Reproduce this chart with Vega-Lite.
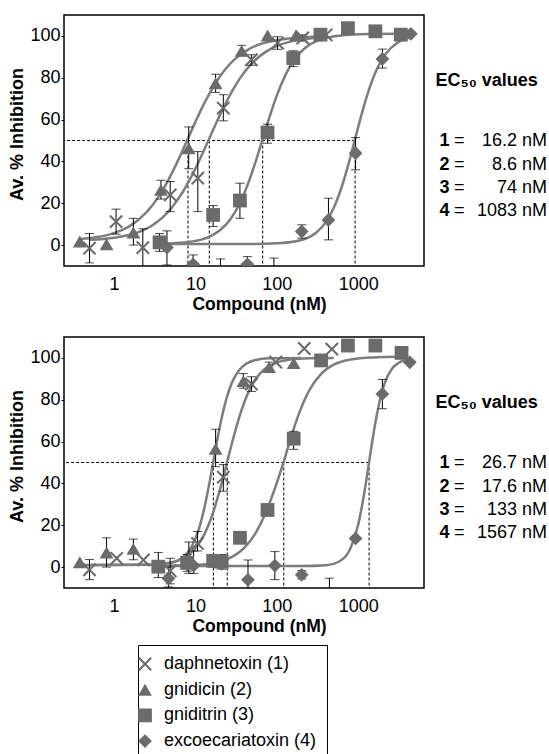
{
  "$schema": "https://vega.github.io/schema/vega-lite/v6.json",
  "padding": {"left": 8, "top": 14, "right": 0, "bottom": 0},
  "config": {
    "font": "Liberation Sans",
    "view": {"stroke": "black", "strokeWidth": 1.5},
    "axis": {"domain": false, "grid": false, "labelFontSize": 18, "labelColor": "black", "titleFontSize": 18, "titleFontWeight": "bold", "titleColor": "black", "tickColor": "black"}
  },
  "datasets": {
    "points": [
      {"panel":"A","compound":"daphnetoxin (1)","conc":0.5,"inhibition":-1.5,"lo":-8.5,"hi":5.5},
      {"panel":"A","compound":"daphnetoxin (1)","conc":1.06,"inhibition":11.2,"lo":5.2,"hi":17.2},
      {"panel":"A","compound":"daphnetoxin (1)","conc":2.26,"inhibition":-1.2,"lo":-10.2,"hi":7.8},
      {"panel":"A","compound":"daphnetoxin (1)","conc":4.9,"inhibition":24,"lo":16,"hi":30.4},
      {"panel":"A","compound":"daphnetoxin (1)","conc":10.7,"inhibition":32,"lo":16,"hi":44.7},
      {"panel":"A","compound":"daphnetoxin (1)","conc":22,"inhibition":65.5,"lo":59.4,"hi":71.9},
      {"panel":"A","compound":"daphnetoxin (1)","conc":48.7,"inhibition":88.6,"lo":86,"hi":91},
      {"panel":"A","compound":"daphnetoxin (1)","conc":102,"inhibition":96.6,"lo":93.6,"hi":99.6},
      {"panel":"A","compound":"daphnetoxin (1)","conc":208,"inhibition":99,"lo":97.5,"hi":100.5},
      {"panel":"A","compound":"daphnetoxin (1)","conc":403,"inhibition":100.5},
      {"panel":"A","compound":"gnidicin (2)","conc":0.38,"inhibition":1.7},
      {"panel":"A","compound":"gnidicin (2)","conc":0.81,"inhibition":0.4},
      {"panel":"A","compound":"gnidicin (2)","conc":1.73,"inhibition":6,"lo":0,"hi":12.8},
      {"panel":"A","compound":"gnidicin (2)","conc":3.77,"inhibition":26.4,"lo":22,"hi":31},
      {"panel":"A","compound":"gnidicin (2)","conc":8.27,"inhibition":46.3,"lo":36.5,"hi":56.5},
      {"panel":"A","compound":"gnidicin (2)","conc":17.7,"inhibition":77.4,"lo":73,"hi":81.7},
      {"panel":"A","compound":"gnidicin (2)","conc":37,"inhibition":92.9,"lo":90.5,"hi":95.5},
      {"panel":"A","compound":"gnidicin (2)","conc":77,"inhibition":100.2},
      {"panel":"A","compound":"gnidicin (2)","conc":172,"inhibition":100.3},
      {"panel":"A","compound":"gniditrin (3)","conc":3.63,"inhibition":1.3,"lo":-3,"hi":5.5},
      {"panel":"A","compound":"gniditrin (3)","conc":16.5,"inhibition":14.4,"lo":8.9,"hi":18.9},
      {"panel":"A","compound":"gniditrin (3)","conc":35.2,"inhibition":21.3,"lo":12.8,"hi":29.6},
      {"panel":"A","compound":"gniditrin (3)","conc":76.8,"inhibition":53.8,"lo":48.7,"hi":57.8},
      {"panel":"A","compound":"gniditrin (3)","conc":159,"inhibition":89.4,"lo":85.4,"hi":92.9},
      {"panel":"A","compound":"gniditrin (3)","conc":343,"inhibition":100.6},
      {"panel":"A","compound":"gniditrin (3)","conc":746,"inhibition":103.7},
      {"panel":"A","compound":"gniditrin (3)","conc":1622,"inhibition":102.2},
      {"panel":"A","compound":"gniditrin (3)","conc":3327,"inhibition":100.6},
      {"panel":"A","compound":"excoecariatoxin (4)","conc":4.47,"inhibition":-1.2,"lo":-9.5,"hi":6.8},
      {"panel":"A","compound":"excoecariatoxin (4)","conc":9.36,"inhibition":-9.2,"lo":-14,"hi":-4.7},
      {"panel":"A","compound":"excoecariatoxin (4)","conc":20.3,"inhibition":-13,"lo":-19,"hi":-6.6},
      {"panel":"A","compound":"excoecariatoxin (4)","conc":43.5,"inhibition":-9.2,"lo":-13,"hi":-5.5},
      {"panel":"A","compound":"excoecariatoxin (4)","conc":92,"inhibition":-14,"lo":-20,"hi":-6.2},
      {"panel":"A","compound":"excoecariatoxin (4)","conc":202,"inhibition":6.5,"lo":3.3,"hi":9.7},
      {"panel":"A","compound":"excoecariatoxin (4)","conc":430,"inhibition":12,"lo":2.5,"hi":22.4},
      {"panel":"A","compound":"excoecariatoxin (4)","conc":926,"inhibition":43.9,"lo":36,"hi":51.4},
      {"panel":"A","compound":"excoecariatoxin (4)","conc":1977,"inhibition":89,"lo":84.6,"hi":93.7},
      {"panel":"A","compound":"excoecariatoxin (4)","conc":4424,"inhibition":101},
      {"panel":"B","compound":"daphnetoxin (1)","conc":0.5,"inhibition":-1.3,"lo":-6,"hi":3.6},
      {"panel":"B","compound":"daphnetoxin (1)","conc":1.08,"inhibition":4.2},
      {"panel":"B","compound":"daphnetoxin (1)","conc":2.3,"inhibition":3.4},
      {"panel":"B","compound":"daphnetoxin (1)","conc":4.9,"inhibition":-1.8,"lo":-8,"hi":4.2},
      {"panel":"B","compound":"daphnetoxin (1)","conc":10.6,"inhibition":11.3,"lo":7.7,"hi":17},
      {"panel":"B","compound":"daphnetoxin (1)","conc":22,"inhibition":43,"lo":36.3,"hi":49},
      {"panel":"B","compound":"daphnetoxin (1)","conc":48.7,"inhibition":87.5,"lo":84,"hi":91},
      {"panel":"B","compound":"daphnetoxin (1)","conc":97,"inhibition":98},
      {"panel":"B","compound":"daphnetoxin (1)","conc":217,"inhibition":104.5},
      {"panel":"B","compound":"daphnetoxin (1)","conc":473,"inhibition":104.2},
      {"panel":"B","compound":"gnidicin (2)","conc":0.38,"inhibition":2.3},
      {"panel":"B","compound":"gnidicin (2)","conc":0.81,"inhibition":7,"lo":0,"hi":14},
      {"panel":"B","compound":"gnidicin (2)","conc":1.73,"inhibition":8.7,"lo":3.5,"hi":13.4},
      {"panel":"B","compound":"gnidicin (2)","conc":8.3,"inhibition":4,"lo":-3,"hi":12},
      {"panel":"B","compound":"gnidicin (2)","conc":17.7,"inhibition":56.6,"lo":48,"hi":65.9},
      {"panel":"B","compound":"gnidicin (2)","conc":38.8,"inhibition":88.9,"lo":85.5,"hi":92.5},
      {"panel":"B","compound":"gnidicin (2)","conc":80.4,"inhibition":95.6,"lo":93,"hi":98},
      {"panel":"B","compound":"gnidicin (2)","conc":161,"inhibition":97.5},
      {"panel":"B","compound":"gniditrin (3)","conc":3.5,"inhibition":0.2,"lo":-5,"hi":7},
      {"panel":"B","compound":"gniditrin (3)","conc":7.9,"inhibition":2,"lo":-2,"hi":6},
      {"panel":"B","compound":"gniditrin (3)","conc":16.5,"inhibition":3,"lo":0,"hi":6},
      {"panel":"B","compound":"gniditrin (3)","conc":21,"inhibition":2.5,"lo":-1,"hi":6},
      {"panel":"B","compound":"gniditrin (3)","conc":35.2,"inhibition":14},
      {"panel":"B","compound":"gniditrin (3)","conc":76.8,"inhibition":27.3},
      {"panel":"B","compound":"gniditrin (3)","conc":161,"inhibition":61.4,"lo":56.3,"hi":64.9},
      {"panel":"B","compound":"gniditrin (3)","conc":349,"inhibition":98.8},
      {"panel":"B","compound":"gniditrin (3)","conc":746,"inhibition":105.9},
      {"panel":"B","compound":"gniditrin (3)","conc":1622,"inhibition":105.9},
      {"panel":"B","compound":"gniditrin (3)","conc":3398,"inhibition":102.4},
      {"panel":"B","compound":"excoecariatoxin (4)","conc":4.67,"inhibition":-5.5,"lo":-9.5,"hi":0},
      {"panel":"B","compound":"excoecariatoxin (4)","conc":9.5,"inhibition":0.7,"lo":-3,"hi":7.7},
      {"panel":"B","compound":"excoecariatoxin (4)","conc":21,"inhibition":1.5},
      {"panel":"B","compound":"excoecariatoxin (4)","conc":44.2,"inhibition":-6.1,"lo":-15.6,"hi":3.4},
      {"panel":"B","compound":"excoecariatoxin (4)","conc":94.5,"inhibition":0.7,"lo":-6,"hi":7.4},
      {"panel":"B","compound":"excoecariatoxin (4)","conc":202,"inhibition":-3.7,"lo":-5.7,"hi":-1.7},
      {"panel":"B","compound":"excoecariatoxin (4)","conc":442,"inhibition":-14,"lo":-22,"hi":-5.3},
      {"panel":"B","compound":"excoecariatoxin (4)","conc":926,"inhibition":13.7},
      {"panel":"B","compound":"excoecariatoxin (4)","conc":1977,"inhibition":82.8,"lo":75.7,"hi":89.7},
      {"panel":"B","compound":"excoecariatoxin (4)","conc":4300,"inhibition":97.9}
    ],
    "curves": [
      {"panel":"A","compound":"1","conc":0.5,"inhibition":2.5},{"panel":"A","compound":"1","conc":1,"inhibition":3.5},{"panel":"A","compound":"1","conc":2,"inhibition":6.2},{"panel":"A","compound":"1","conc":3,"inhibition":9.6},{"panel":"A","compound":"1","conc":5,"inhibition":17.4},{"panel":"A","compound":"1","conc":7,"inhibition":25.4},{"panel":"A","compound":"1","conc":10,"inhibition":36.6},{"panel":"A","compound":"1","conc":12.5,"inhibition":44.6},{"panel":"A","compound":"1","conc":14.8,"inhibition":51},{"panel":"A","compound":"1","conc":18,"inhibition":58.4},{"panel":"A","compound":"1","conc":22,"inhibition":65.6},{"panel":"A","compound":"1","conc":28,"inhibition":73.4},{"panel":"A","compound":"1","conc":35,"inhibition":79.6},{"panel":"A","compound":"1","conc":50,"inhibition":87.1},{"panel":"A","compound":"1","conc":70,"inhibition":91.9},{"panel":"A","compound":"1","conc":100,"inhibition":95.2},{"panel":"A","compound":"1","conc":150,"inhibition":97.4},{"panel":"A","compound":"1","conc":200,"inhibition":98.3},{"panel":"A","compound":"1","conc":300,"inhibition":99.1},{"panel":"A","compound":"1","conc":400,"inhibition":99.5},
      {"panel":"A","compound":"2","conc":0.38,"inhibition":2.85},{"panel":"A","compound":"2","conc":0.6,"inhibition":3.7},{"panel":"A","compound":"2","conc":1,"inhibition":5.7},{"panel":"A","compound":"2","conc":1.5,"inhibition":8.7},{"panel":"A","compound":"2","conc":2,"inhibition":12.1},{"panel":"A","compound":"2","conc":3,"inhibition":19.3},{"panel":"A","compound":"2","conc":4,"inhibition":26.6},{"panel":"A","compound":"2","conc":5.5,"inhibition":36.7},{"panel":"A","compound":"2","conc":7,"inhibition":45.5},{"panel":"A","compound":"2","conc":8.1,"inhibition":51},{"panel":"A","compound":"2","conc":10,"inhibition":58.9},{"panel":"A","compound":"2","conc":13,"inhibition":68.2},{"panel":"A","compound":"2","conc":17,"inhibition":76.4},{"panel":"A","compound":"2","conc":23,"inhibition":83.8},{"panel":"A","compound":"2","conc":32,"inhibition":89.6},{"panel":"A","compound":"2","conc":45,"inhibition":93.6},{"panel":"A","compound":"2","conc":65,"inhibition":96.3},{"panel":"A","compound":"2","conc":100,"inhibition":98},{"panel":"A","compound":"2","conc":150,"inhibition":98.9},{"panel":"A","compound":"2","conc":250,"inhibition":99.5},{"panel":"A","compound":"2","conc":400,"inhibition":99.8},
      {"panel":"A","compound":"3","conc":3.6,"inhibition":0.66},{"panel":"A","compound":"3","conc":6,"inhibition":0.99},{"panel":"A","compound":"3","conc":10,"inhibition":2},{"panel":"A","compound":"3","conc":15,"inhibition":4.1},{"panel":"A","compound":"3","conc":20,"inhibition":7.1},{"panel":"A","compound":"3","conc":27,"inhibition":12.5},{"panel":"A","compound":"3","conc":35,"inhibition":19.9},{"panel":"A","compound":"3","conc":45,"inhibition":30.1},{"panel":"A","compound":"3","conc":55,"inhibition":40},{"panel":"A","compound":"3","conc":67,"inhibition":50.75},{"panel":"A","compound":"3","conc":80,"inhibition":60.4},{"panel":"A","compound":"3","conc":100,"inhibition":71.6},{"panel":"A","compound":"3","conc":130,"inhibition":82},{"panel":"A","compound":"3","conc":170,"inhibition":89.5},{"panel":"A","compound":"3","conc":230,"inhibition":94.7},{"panel":"A","compound":"3","conc":320,"inhibition":97.9},{"panel":"A","compound":"3","conc":500,"inhibition":99.8},{"panel":"A","compound":"3","conc":800,"inhibition":100.6},{"panel":"A","compound":"3","conc":1500,"inhibition":100.9},{"panel":"A","compound":"3","conc":3300,"inhibition":101},
      {"panel":"A","compound":"4","conc":4.5,"inhibition":0.5},{"panel":"A","compound":"4","conc":50,"inhibition":0.55},{"panel":"A","compound":"4","conc":100,"inhibition":0.82},{"panel":"A","compound":"4","conc":200,"inhibition":2.4},{"panel":"A","compound":"4","conc":300,"inhibition":5.8},{"panel":"A","compound":"4","conc":400,"inhibition":11},{"panel":"A","compound":"4","conc":500,"inhibition":17.8},{"panel":"A","compound":"4","conc":650,"inhibition":29.8},{"panel":"A","compound":"4","conc":800,"inhibition":42.1},{"panel":"A","compound":"4","conc":914,"inhibition":50.75},{"panel":"A","compound":"4","conc":1100,"inhibition":62.6},{"panel":"A","compound":"4","conc":1350,"inhibition":74.2},{"panel":"A","compound":"4","conc":1700,"inhibition":84.3},{"panel":"A","compound":"4","conc":2200,"inhibition":91.7},{"panel":"A","compound":"4","conc":3000,"inhibition":96.6},{"panel":"A","compound":"4","conc":4400,"inhibition":99.3},
      {"panel":"B","compound":"1","conc":0.5,"inhibition":1},{"panel":"B","compound":"1","conc":2,"inhibition":1.1},{"panel":"B","compound":"1","conc":4,"inhibition":1.7},{"panel":"B","compound":"1","conc":6,"inhibition":3.1},{"panel":"B","compound":"1","conc":8,"inhibition":5.6},{"panel":"B","compound":"1","conc":10,"inhibition":9},{"panel":"B","compound":"1","conc":13,"inhibition":16},{"panel":"B","compound":"1","conc":16,"inhibition":24.6},{"panel":"B","compound":"1","conc":20,"inhibition":37},{"panel":"B","compound":"1","conc":24.6,"inhibition":50.5},{"panel":"B","compound":"1","conc":30,"inhibition":63.4},{"panel":"B","compound":"1","conc":37,"inhibition":75.3},{"panel":"B","compound":"1","conc":45,"inhibition":83.8},{"panel":"B","compound":"1","conc":55,"inhibition":89.9},{"panel":"B","compound":"1","conc":70,"inhibition":94.5},{"panel":"B","compound":"1","conc":100,"inhibition":97.8},{"panel":"B","compound":"1","conc":150,"inhibition":99.3},{"panel":"B","compound":"1","conc":250,"inhibition":99.9},{"panel":"B","compound":"1","conc":500,"inhibition":100},
      {"panel":"B","compound":"2","conc":0.38,"inhibition":1},{"panel":"B","compound":"2","conc":3,"inhibition":1.15},{"panel":"B","compound":"2","conc":5,"inhibition":2},{"panel":"B","compound":"2","conc":7,"inhibition":4.6},{"panel":"B","compound":"2","conc":9,"inhibition":9.8},{"panel":"B","compound":"2","conc":11,"inhibition":18.1},{"panel":"B","compound":"2","conc":13,"inhibition":29},{"panel":"B","compound":"2","conc":15,"inhibition":41.1},{"panel":"B","compound":"2","conc":16.6,"inhibition":50.5},{"panel":"B","compound":"2","conc":18.5,"inhibition":60.6},{"panel":"B","compound":"2","conc":21,"inhibition":71.3},{"panel":"B","compound":"2","conc":24,"inhibition":80.4},{"panel":"B","compound":"2","conc":28,"inhibition":88.1},{"panel":"B","compound":"2","conc":34,"inhibition":93.9},{"panel":"B","compound":"2","conc":42,"inhibition":97.2},{"panel":"B","compound":"2","conc":55,"inhibition":99},{"panel":"B","compound":"2","conc":80,"inhibition":99.8},{"panel":"B","compound":"2","conc":200,"inhibition":100},
      {"panel":"B","compound":"3","conc":3.5,"inhibition":0.56},{"panel":"B","compound":"3","conc":10,"inhibition":1.02},{"panel":"B","compound":"3","conc":20,"inhibition":2.7},{"panel":"B","compound":"3","conc":30,"inhibition":5.5},{"panel":"B","compound":"3","conc":40,"inhibition":9.3},{"panel":"B","compound":"3","conc":55,"inhibition":16.4},{"panel":"B","compound":"3","conc":70,"inhibition":24.4},{"panel":"B","compound":"3","conc":90,"inhibition":35.2},{"panel":"B","compound":"3","conc":121.6,"inhibition":50.5},{"panel":"B","compound":"3","conc":150,"inhibition":62.35},{"panel":"B","compound":"3","conc":190,"inhibition":74.1},{"panel":"B","compound":"3","conc":250,"inhibition":84.5},{"panel":"B","compound":"3","conc":350,"inhibition":92.4},{"panel":"B","compound":"3","conc":500,"inhibition":96.8},{"panel":"B","compound":"3","conc":800,"inhibition":99.2},{"panel":"B","compound":"3","conc":1500,"inhibition":100.2},{"panel":"B","compound":"3","conc":3400,"inhibition":100.5},
      {"panel":"B","compound":"4","conc":4.5,"inhibition":0.5},{"panel":"B","compound":"4","conc":200,"inhibition":0.5},{"panel":"B","compound":"4","conc":400,"inhibition":0.9},{"panel":"B","compound":"4","conc":600,"inhibition":3},{"panel":"B","compound":"4","conc":800,"inhibition":8.9},{"panel":"B","compound":"4","conc":1000,"inhibition":20.5},{"panel":"B","compound":"4","conc":1200,"inhibition":36.8},{"panel":"B","compound":"4","conc":1358,"inhibition":50.25},{"panel":"B","compound":"4","conc":1550,"inhibition":64.6},{"panel":"B","compound":"4","conc":1800,"inhibition":78.1},{"panel":"B","compound":"4","conc":2100,"inhibition":87.7},{"panel":"B","compound":"4","conc":2600,"inhibition":94.9},{"panel":"B","compound":"4","conc":3200,"inhibition":97.9},{"panel":"B","compound":"4","conc":4300,"inhibition":99.4}
    ],
    "ec": [
      {"panel":"A","cmpd":"1","label":"16.2 nM","ecx":14.8},
      {"panel":"A","cmpd":"2","label":"8.6 nM","ecx":8.1},
      {"panel":"A","cmpd":"3","label":"74 nM","ecx":67},
      {"panel":"A","cmpd":"4","label":"1083 nM","ecx":914},
      {"panel":"B","cmpd":"1","label":"26.7 nM","ecx":24.6},
      {"panel":"B","cmpd":"2","label":"17.6 nM","ecx":16.6},
      {"panel":"B","cmpd":"3","label":"133 nM","ecx":121.6},
      {"panel":"B","cmpd":"4","label":"1567 nM","ecx":1358}
    ],
    "heading": [
      {"panel":"A","cmpd":"T","label":"EC₅₀ values"},
      {"panel":"B","cmpd":"T","label":"EC₅₀ values"}
    ]
  },
  "spacing": 22,
  "resolve": {"scale": {"shape": "independent"}, "legend": {"shape": "independent"}},
  "vconcat": [
    {
      "width": 360, "height": 251,
      "resolve": {"scale": {"y": "independent"}},
      "layer": [
        {
          "layer": [
            {
              "data": {"name": "ec"}, "transform": [{"filter": "datum.panel === 'A'"}],
              "mark": {"type": "rule", "color": "black", "strokeWidth": 1, "strokeDash": [3, 2]},
              "encoding": {
                "x": {"field": "ecx", "type": "quantitative", "scale": {"type": "log", "domain": [0.2432, 6412], "nice": false},
                  "axis": {"values": [1, 10, 100, 1000], "format": "d", "ticks": false, "labelPadding": 9, "title": "Compound (nM)", "titleFontSize": 17.5, "titlePadding": 2, "titleX": 195}},
                "y": {"datum": 50, "type": "quantitative", "scale": {"domain": [-10, 110], "nice": false},
                  "axis": {"values": [0, 20, 40, 60, 80, 100], "tickSize": 3, "labelPadding": 1, "title": "Av. % Inhibition", "titlePadding": 3, "titleY": 119}},
                "y2": {"datum": -10}
              }
            },
            {
              "data": {"name": "ec"}, "transform": [{"filter": "datum.panel === 'A'"}, {"aggregate": [{"op": "max", "field": "ecx", "as": "ecmax"}]}],
              "mark": {"type": "rule", "color": "black", "strokeWidth": 1, "strokeDash": [3, 2]},
              "encoding": {"x": {"field": "ecmax", "type": "quantitative"}, "x2": {"datum": 0.2432}, "y": {"datum": 50, "type": "quantitative"}}
            },
            {
              "data": {"name": "curves"}, "transform": [{"filter": "datum.panel === 'A'"}],
              "mark": {"type": "line", "color": "#7d7d7d", "strokeWidth": 2.5, "interpolate": "monotone", "clip": true},
              "encoding": {"x": {"field": "conc", "type": "quantitative"}, "y": {"field": "inhibition", "type": "quantitative"}, "detail": {"field": "compound", "type": "nominal"}}
            },
            {
              "data": {"name": "points"}, "transform": [{"filter": "datum.panel === 'A' && datum.lo != null"}],
              "mark": {"type": "rule", "color": "black", "strokeWidth": 1, "clip": true},
              "encoding": {"x": {"field": "conc", "type": "quantitative"}, "y": {"field": "lo", "type": "quantitative"}, "y2": {"field": "hi"}}
            },
            {
              "data": {"name": "points"}, "transform": [{"filter": "datum.panel === 'A' && datum.lo != null"}],
              "mark": {"type": "tick", "orient": "horizontal", "color": "black", "thickness": 1, "size": 9, "clip": true},
              "encoding": {"x": {"field": "conc", "type": "quantitative"}, "y": {"field": "lo", "type": "quantitative"}}
            },
            {
              "data": {"name": "points"}, "transform": [{"filter": "datum.panel === 'A' && datum.lo != null"}],
              "mark": {"type": "tick", "orient": "horizontal", "color": "black", "thickness": 1, "size": 9, "clip": true},
              "encoding": {"x": {"field": "conc", "type": "quantitative"}, "y": {"field": "hi", "type": "quantitative"}}
            },
            {
              "data": {"name": "points"}, "transform": [{"filter": "datum.panel === 'A'"}],
              "mark": {"type": "point", "filled": true, "size": 190, "color": "#6b6b6b", "opacity": 1, "clip": true},
              "encoding": {
                "x": {"field": "conc", "type": "quantitative"},
                "y": {"field": "inhibition", "type": "quantitative"},
                "shape": {"field": "compound", "type": "nominal",
                  "scale": {"domain": ["daphnetoxin (1)", "gnidicin (2)", "gniditrin (3)", "excoecariatoxin (4)"],
                    "range": ["M1,-0.788L0.212,0L1,0.788L0.788,1L0,0.212L-0.788,1L-1,0.788L-0.212,0L-1,-0.788L-0.788,-1L0,-0.212L0.788,-1Z", "triangle-up", "square", "diamond"]},
                  "legend": null}
              }
            }
          ]
        },
        {
          "layer": [
            {"data": {"name": "ec"}, "transform": [{"filter": "datum.panel === 'A'"}],
             "mark": {"type": "text", "align": "left", "baseline": "middle", "fontSize": 18, "fontWeight": "bold", "color": "black"},
             "encoding": {"x": {"datum": 9930, "type": "quantitative"},
               "y": {"field": "cmpd", "type": "ordinal", "scale": {"type": "point", "domain": ["a", "b", "T", "g1", "g2", "1", "2", "3", "4", "z"], "padding": 0.88, "align": 0.24}, "axis": null},
               "text": {"field": "cmpd"}}},
            {"data": {"name": "ec"}, "transform": [{"filter": "datum.panel === 'A'"}],
             "mark": {"type": "text", "align": "left", "baseline": "middle", "fontSize": 18, "color": "black", "text": "="},
             "encoding": {"x": {"datum": 14960, "type": "quantitative"}, "y": {"field": "cmpd", "type": "ordinal"}}},
            {"data": {"name": "ec"}, "transform": [{"filter": "datum.panel === 'A'"}],
             "mark": {"type": "text", "align": "right", "baseline": "middle", "fontSize": 18, "color": "black"},
             "encoding": {"x": {"datum": 208000, "type": "quantitative"}, "y": {"field": "cmpd", "type": "ordinal"}, "text": {"field": "label"}}},
            {"data": {"name": "heading"}, "transform": [{"filter": "datum.panel === 'A'"}],
             "mark": {"type": "text", "align": "left", "baseline": "middle", "fontSize": 18, "fontWeight": "bold", "color": "black", "dy": 9},
             "encoding": {"x": {"datum": 8850, "type": "quantitative"}, "y": {"field": "cmpd", "type": "ordinal"}, "text": {"field": "label"}}}
          ]
        }
      ]
    },
    {
      "width": 360, "height": 251,
      "resolve": {"scale": {"y": "independent"}},
      "layer": [
        {
          "layer": [
            {
              "data": {"name": "ec"}, "transform": [{"filter": "datum.panel === 'B'"}],
              "mark": {"type": "rule", "color": "black", "strokeWidth": 1, "strokeDash": [3, 2]},
              "encoding": {
                "x": {"field": "ecx", "type": "quantitative", "scale": {"type": "log", "domain": [0.2432, 6412], "nice": false},
                  "axis": {"values": [1, 10, 100, 1000], "format": "d", "ticks": false, "labelPadding": 9, "title": "Compound (nM)", "titleFontSize": 17.5, "titlePadding": 2, "titleX": 195}},
                "y": {"datum": 50, "type": "quantitative", "scale": {"domain": [-10, 110], "nice": false},
                  "axis": {"values": [0, 20, 40, 60, 80, 100], "tickSize": 3, "labelPadding": 1, "title": "Av. % Inhibition", "titlePadding": 3, "titleY": 119}},
                "y2": {"datum": -10}
              }
            },
            {
              "data": {"name": "ec"}, "transform": [{"filter": "datum.panel === 'B'"}, {"aggregate": [{"op": "max", "field": "ecx", "as": "ecmax"}]}],
              "mark": {"type": "rule", "color": "black", "strokeWidth": 1, "strokeDash": [3, 2]},
              "encoding": {"x": {"field": "ecmax", "type": "quantitative"}, "x2": {"datum": 0.2432}, "y": {"datum": 50, "type": "quantitative"}}
            },
            {
              "data": {"name": "curves"}, "transform": [{"filter": "datum.panel === 'B'"}],
              "mark": {"type": "line", "color": "#7d7d7d", "strokeWidth": 2.5, "interpolate": "monotone", "clip": true},
              "encoding": {"x": {"field": "conc", "type": "quantitative"}, "y": {"field": "inhibition", "type": "quantitative"}, "detail": {"field": "compound", "type": "nominal"}}
            },
            {
              "data": {"name": "points"}, "transform": [{"filter": "datum.panel === 'B' && datum.lo != null"}],
              "mark": {"type": "rule", "color": "black", "strokeWidth": 1, "clip": true},
              "encoding": {"x": {"field": "conc", "type": "quantitative"}, "y": {"field": "lo", "type": "quantitative"}, "y2": {"field": "hi"}}
            },
            {
              "data": {"name": "points"}, "transform": [{"filter": "datum.panel === 'B' && datum.lo != null"}],
              "mark": {"type": "tick", "orient": "horizontal", "color": "black", "thickness": 1, "size": 9, "clip": true},
              "encoding": {"x": {"field": "conc", "type": "quantitative"}, "y": {"field": "lo", "type": "quantitative"}}
            },
            {
              "data": {"name": "points"}, "transform": [{"filter": "datum.panel === 'B' && datum.lo != null"}],
              "mark": {"type": "tick", "orient": "horizontal", "color": "black", "thickness": 1, "size": 9, "clip": true},
              "encoding": {"x": {"field": "conc", "type": "quantitative"}, "y": {"field": "hi", "type": "quantitative"}}
            },
            {
              "data": {"name": "points"}, "transform": [{"filter": "datum.panel === 'B'"}],
              "mark": {"type": "point", "filled": true, "size": 190, "color": "#6b6b6b", "opacity": 1, "clip": true},
              "encoding": {
                "x": {"field": "conc", "type": "quantitative"},
                "y": {"field": "inhibition", "type": "quantitative"},
                "shape": {"field": "compound", "type": "nominal",
                  "scale": {"domain": ["daphnetoxin (1)", "gnidicin (2)", "gniditrin (3)", "excoecariatoxin (4)"],
                    "range": ["M1,-0.788L0.212,0L1,0.788L0.788,1L0,0.212L-0.788,1L-1,0.788L-0.212,0L-1,-0.788L-0.788,-1L0,-0.212L0.788,-1Z", "triangle-up", "square", "diamond"]},
                  "legend": {"orient": "none", "legendX": 74, "legendY": 308, "title": null, "strokeColor": "black", "padding": 10, "rowPadding": 7.7,
                    "symbolSize": 190, "symbolFillColor": "#6b6b6b", "symbolStrokeWidth": 0, "symbolOffset": -12, "labelFontSize": 18, "labelColor": "black", "labelOffset": 10, "labelLimit": 300}}
              }
            }
          ]
        },
        {
          "layer": [
            {"data": {"name": "ec"}, "transform": [{"filter": "datum.panel === 'B'"}],
             "mark": {"type": "text", "align": "left", "baseline": "middle", "fontSize": 18, "fontWeight": "bold", "color": "black"},
             "encoding": {"x": {"datum": 9930, "type": "quantitative"},
               "y": {"field": "cmpd", "type": "ordinal", "scale": {"type": "point", "domain": ["a", "b", "T", "g1", "g2", "1", "2", "3", "4", "z"], "padding": 0.88, "align": 0.24}, "axis": null},
               "text": {"field": "cmpd"}}},
            {"data": {"name": "ec"}, "transform": [{"filter": "datum.panel === 'B'"}],
             "mark": {"type": "text", "align": "left", "baseline": "middle", "fontSize": 18, "color": "black", "text": "="},
             "encoding": {"x": {"datum": 14960, "type": "quantitative"}, "y": {"field": "cmpd", "type": "ordinal"}}},
            {"data": {"name": "ec"}, "transform": [{"filter": "datum.panel === 'B'"}],
             "mark": {"type": "text", "align": "right", "baseline": "middle", "fontSize": 18, "color": "black"},
             "encoding": {"x": {"datum": 208000, "type": "quantitative"}, "y": {"field": "cmpd", "type": "ordinal"}, "text": {"field": "label"}}},
            {"data": {"name": "heading"}, "transform": [{"filter": "datum.panel === 'B'"}],
             "mark": {"type": "text", "align": "left", "baseline": "middle", "fontSize": 18, "fontWeight": "bold", "color": "black", "dy": 9},
             "encoding": {"x": {"datum": 8850, "type": "quantitative"}, "y": {"field": "cmpd", "type": "ordinal"}, "text": {"field": "label"}}}
          ]
        }
      ]
    }
  ]
}
